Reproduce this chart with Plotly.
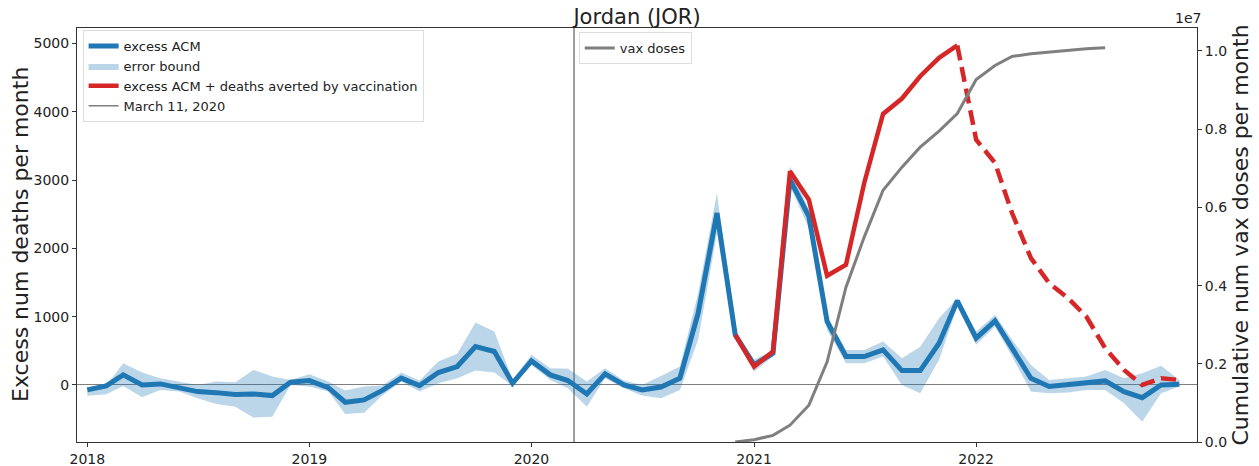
import pandas as pd
import plotly.graph_objects as go

# ---------------- data ----------------
month_start = "2018-01-01"
month_end = "2022-12-01"

excess_acm = [-73, -15, 147, 0, 15, -40, -98, -113, -142, -132, -156, 39,
              64, -40, -254, -220, -80, 100, -10, 181, 269, 562, 489, 24,
              352, 147, 64, -132, 161, 0, -73, -30, 98, 1051, 2517, 733,
              293, 465, 3006, 2468, 929, 416, 416, 513, 210, 210, 611, 1232,
              684, 938, 538, 98, -24, 0, 24, 59, -98, -186, 0, 10]
error_upper = [-30, -15, 318, 180, 98, 49, 0, 49, 39, 220, 122, 73,
               156, 49, -83, -24, -10, 181, 64, 342, 455, 914, 782, 73,
               440, 245, 235, 49, 245, 64, 0, 132, 269, 1344, 2810, 760,
               367, 513, 3201, 2566, 1002, 513, 513, 635, 391, 560, 977, 1271,
               782, 1026, 660, 293, 73, 98, 122, 220, 98, 171, 279, 73]
error_lower = [-160, -136, -15, -180, -73, -98, -195, -279, -318, -479, -465, 0,
               -24, -98, -425, -406, -150, 49, -98, 24, 98, 210, 181, -15,
               293, 73, -49, -318, 98, -49, -156, -196, -73, 660, 2224, 690,
               195, 416, 2908, 2297, 806, 318, 318, 416, 0, -122, 367, 1149,
               587, 855, 416, -98, -122, -112, -73, -73, -269, -538, -122, -24]

averted_start = "2020-12-01"
averted_dash_from = "2021-12-01"
excess_plus_averted = [733, 269, 489, 3128, 2713, 1598, 1760, 2957, 3969, 4194, 4521, 4790,
                       4971, 3592, 3251, 2517, 1857, 1491, 1271, 1002, 538, 220, 0, 98, 73]

vax_start = "2020-12-01"
vax_doses = [0, 60000, 170000, 430000, 940000, 2050000, 3960000, 5240000, 6440000,
             7030000, 7540000, 7950000, 8400000, 9270000, 9630000, 9860000, 9930000,
             9970000, 10020000, 10060000, 10080000]

pandemic_date = "2020-03-11"
year_ticks = ["2018-01-01", "2019-01-01", "2020-01-01", "2021-01-01", "2022-01-01"]
year_labels = ["2018", "2019", "2020", "2021", "2022"]
vax_tick_vals = [0, 2e6, 4e6, 6e6, 8e6, 1e7]
vax_tick_text = ["0.0", "0.2", "0.4", "0.6", "0.8", "1.0"]

# ---------------- derived ----------------
months = pd.date_range(month_start, month_end, freq="MS")
av_months = pd.date_range(averted_start, periods=len(excess_plus_averted), freq="MS")
vax_months = pd.date_range(vax_start, periods=len(vax_doses), freq="MS")
split = list(av_months).index(pd.Timestamp(averted_dash_from))

BLUE = "#1f77b4"
RED = "#d62728"
GRAY = "#7f7f7f"
FONT = "DejaVu Sans"

fig = go.Figure()

band_x = list(months) + list(months[::-1])
band_y = error_upper + error_lower[::-1]
fig.add_trace(go.Scatter(x=band_x, y=band_y, fill="toself", mode="lines",
                         line=dict(width=0), fillcolor="rgba(31,119,180,0.3)",
                         name="error bound", legendrank=2, hoverinfo="skip"))
fig.add_trace(go.Scatter(x=months, y=excess_acm, mode="lines",
                         line=dict(color=BLUE, width=5), name="excess ACM", legendrank=1))
fig.add_trace(go.Scatter(x=av_months[:split + 1], y=excess_plus_averted[:split + 1], mode="lines",
                         line=dict(color=RED, width=4.5),
                         name="excess ACM + deaths averted by vaccination", legendrank=3))
fig.add_trace(go.Scatter(x=av_months[split:], y=excess_plus_averted[split:], mode="lines",
                         line=dict(color=RED, width=4.5, dash="15px,7px"),
                         showlegend=False))
fig.add_trace(go.Scatter(x=vax_months, y=vax_doses, mode="lines", yaxis="y2",
                         line=dict(color=GRAY, width=3), name="vax doses", legend="legend2"))

fig.add_shape(type="line", xref="x", yref="paper", x0=pandemic_date, x1=pandemic_date,
              y0=0, y1=1, line=dict(color=GRAY, width=1.5), layer="below",
              showlegend=True, name="March 11, 2020", legendrank=4)

axis_common = dict(showgrid=False, ticks="outside", ticklen=4, tickcolor="#333",
                   linecolor="#333", linewidth=1, showline=True, automargin=False,
                   tickfont=dict(family=FONT, size=14, color="#222"))

fig.update_layout(
    width=1259, height=466,
    margin=dict(l=77, r=62, t=28, b=24, autoexpand=False),
    plot_bgcolor="white", paper_bgcolor="white",
    font=dict(family=FONT, color="#222"),
    title=dict(text="Jordan (JOR)", x=0.5, xref="paper", xanchor="center",
               y=1 - 17 / 466, yref="container", yanchor="middle",
               font=dict(family=FONT, size=21, color="#222")),
    xaxis=dict(**axis_common, mirror=True, range=["2017-12-15", "2022-12-30"],
               tickvals=year_ticks, ticktext=year_labels),
    yaxis=dict(**axis_common, range=[-836, 5227], tickvals=[0, 1000, 2000, 3000, 4000, 5000],
               zeroline=True, zerolinecolor=GRAY, zerolinewidth=1.2),
    yaxis2=dict(**axis_common, overlaying="y", side="right", range=[0, 1.0588e7],
                tickvals=vax_tick_vals, ticktext=vax_tick_text, zeroline=False,
                title=dict(text="Cumulative num vax doses per month",
                           font=dict(family=FONT, size=22, color="#222"), standoff=6)),
    legend=dict(x=0.005, y=0.995, xanchor="left", yanchor="top",
                bgcolor="rgba(255,255,255,0.8)", bordercolor="#dddddd", borderwidth=1,
                font=dict(family=FONT, size=13, color="#222"), itemwidth=30,
                tracegroupgap=0),
    legend2=dict(x=0.448, y=0.99, xanchor="left", yanchor="top",
                 bgcolor="rgba(255,255,255,0.8)", bordercolor="#dddddd", borderwidth=1,
                 font=dict(family=FONT, size=13, color="#222"), itemwidth=30),
    showlegend=True,
)

fig.add_annotation(text="Excess num deaths per month", xref="paper", yref="paper",
                   x=0, y=0.5, xanchor="center", yanchor="middle", xshift=-57,
                   textangle=-90, showarrow=False,
                   font=dict(family=FONT, size=22, color="#222"))
fig.add_annotation(text="1e7", xref="paper", yref="paper", x=1, y=1, xanchor="right",
                   yanchor="bottom", xshift=6, showarrow=False,
                   font=dict(family=FONT, size=14, color="#222"))

fig.write_html("out.html", config={"displayModeBar": False},
               post_script="document.body.style.margin='0';document.body.style.padding='0';")
